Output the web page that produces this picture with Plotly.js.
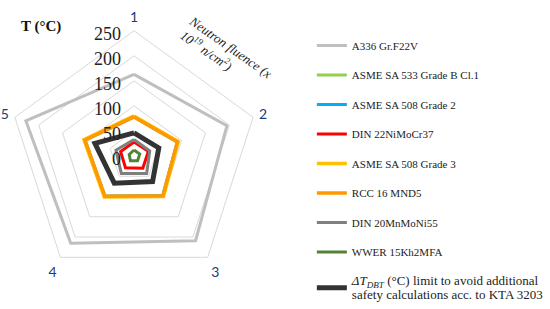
<!DOCTYPE html>
<html>
<head>
<meta charset="utf-8">
<script src="https://cdn.plot.ly/plotly-3.0.1.min.js"></script>
<style>
  html, body { margin: 0; padding: 0; background: #fff; }
  #chart { width: 550px; height: 309px; }
</style>
</head>
<body>
<div id="chart"></div>
<script>
// Axis categories (neutron fluence points)
const axisLabels = ["1", "2", "3", "4", "5"];

// T (°C) per material
const a336 = [163, 195, 209, 215, 227];
const asme533 = [78, 91, 98, 99, 103];
const asme508g2 = [78, 91, 98, 99, 103];
const din22 = [28, 30, 30, 29, 28];
const asme508g3 = [80, 93, 100, 101, 105];
const rcc16 = [78, 91, 98, 99, 103];
const din20 = [33, 33, 43, 43, 38];
const wwer = [12, 12, 12, 12, 10];
const deltaT = [46, 52, 63, 67, 82];

const seriesNames = [
    "A336 Gr.F22V",
    "ASME SA 533 Grade B Cl.1",
    "ASME SA 508 Grade 2",
    "DIN 22NiMoCr37",
    "ASME SA 508 Grade 3",
    "RCC 16 MND5",
    "DIN 20MnMoNi55",
    "WWER 15Kh2MFA",
    "<span style=\"font-size:13px\"><i>ΔT<sub>DBT</sub></i> (°C) limit to avoid additional<br>safety calculations acc. to KTA 3203</span>"
];
const seriesValues = [a336, asme533, asme508g2, din22, asme508g3, rcc16, din20, wwer, deltaT];
const seriesColors = ["#BFBFBF", "#92D050", "#00B0F0", "#FF0000", "#FFC000", "#FF9900", "#7F7F7F", "#548235", "#333333"];
const seriesWidths = [3, 3, 3, 3, 3.5, 3.5, 3, 3, 5];

// close each pentagon by repeating the first point
const traces = seriesValues.map((vals, i) => ({
    type: "scatterpolar",
    mode: "lines",
    r: vals.concat([vals[0]]),
    theta: axisLabels.concat([axisLabels[0]]),
    name: seriesNames[i],
    legendgroup: "g" + i,
    line: { color: seriesColors[i], width: seriesWidths[i] },
    hoverinfo: "name+r"
}));

const layout = {
    width: 550,
    height: 309,
    margin: { t: 0, b: 0, l: 0, r: 0 },
    paper_bgcolor: "#fff",
    showlegend: true,
    legend: {
        x: 0.584, y: 0.885, xanchor: "left", yanchor: "top",
        font: { family: "Liberation Serif", size: 11, color: "#222" },
        tracegroupgap: 10.5,
        itemwidth: 30
    },
    polar: {
        domain: { x: [0.0164, 0.4855], y: [0.0777, 0.9126] },
        gridshape: "linear",
        bgcolor: "rgba(0,0,0,0)",
        angularaxis: {
            type: "category",
            categoryarray: axisLabels,
            direction: "clockwise",
            rotation: 90,
            showgrid: false,
            showline: true,
            linecolor: "#D9D9D9",
            linewidth: 1,
            ticks: "outside",
            ticklen: 3,
            tickcolor: "rgba(0,0,0,0)",
            tickfont: { family: "Lato", size: 14, color: "#1F3B78" }
        },
        radialaxis: {
            range: [0, 250],
            dtick: 50,
            angle: 90,
            side: "counterclockwise",
            showline: false,
            ticks: "",
            gridcolor: "#D9D9D9",
            gridwidth: 1,
            tickfont: { family: "Liberation Serif", size: 18, color: "#222" }
        }
    },
    annotations: [
        {
            text: "<b>T (°C)</b>", xref: "paper", yref: "paper",
            x: 42 / 550, y: 1 - 26 / 309, xanchor: "center", yanchor: "middle",
            showarrow: false,
            font: { family: "Liberation Serif", size: 15, color: "#111" }
        },
        {
            text: "<i>Neutron fluence (x<br>10<sup>19</sup> n/cm<sup>2</sup>)</i>",
            xref: "paper", yref: "paper",
            x: 232 / 550, y: 1 - 54 / 309, xanchor: "center", yanchor: "middle",
            showarrow: false,
            textangle: 35, align: "left",
            font: { family: "Liberation Serif", size: 13, color: "#222" }
        }
    ]
};

Plotly.newPlot("chart", traces, layout, { displayModeBar: false, staticPlot: true });
</script>
</body>
</html>
